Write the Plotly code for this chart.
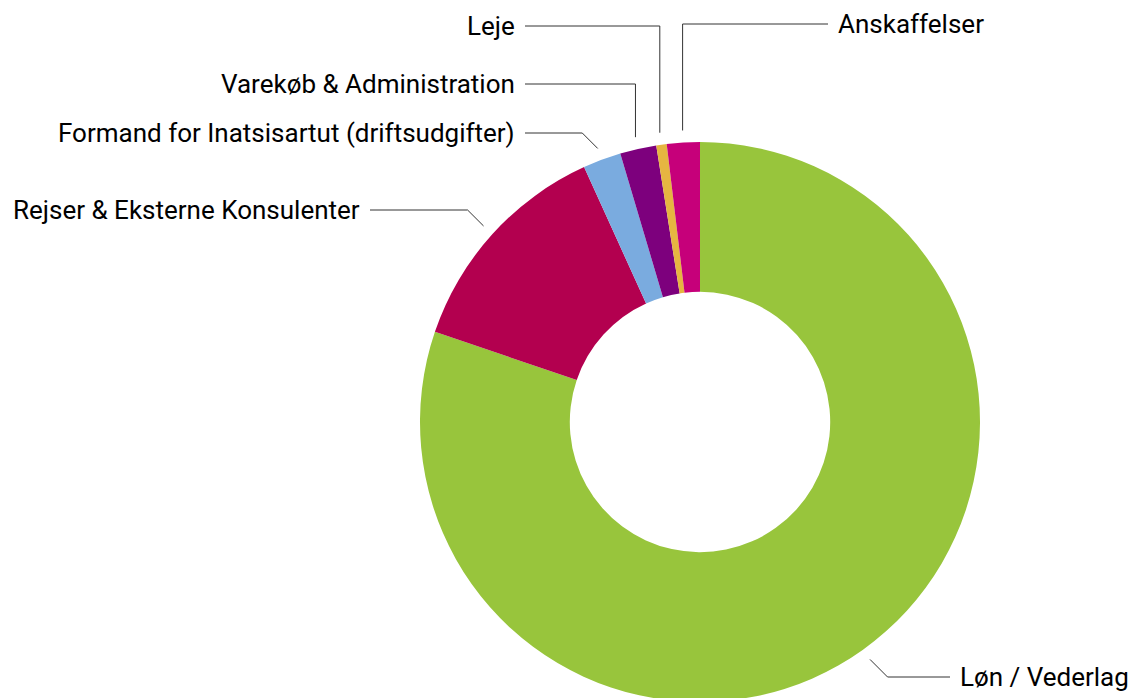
import math
import plotly.graph_objects as go

# ---------------- data ----------------
labels = [
    "Løn / Vederlag",
    "Rejser & Eksterne Konsulenter",
    "Formand for Inatsisartut (driftsudgifter)",
    "Varekøb & Administration",
    "Leje",
    "Anskaffelser",
]
values = [80.3, 13.0, 2.2, 2.1, 0.6, 1.9]
colors = ["#98c53c", "#b3004f", "#7aabdf", "#7d007d", "#e6b541", "#c6007a"]

# ---------------- layout (screen pixels) ----------------
W, H = 1132, 702
CX, CY, R = 700, 422, 280
HOLE = 0.465
ANCHOR_F = 1.043
FONT = dict(family="Roboto, DejaVu Sans, sans-serif", size=26, color="#000000")

# per label: (side of text, line start/end x next to text, label y, elbow style)
label_layout = [
    ("right", 950, 677, "diag"),
    ("left", 370, 210, "diag"),
    ("left", 525, 133, "diag"),
    ("left", 525, 84, "vert"),
    ("left", 525, 26, "vert"),
    ("right", 828, 24, "vert"),
]


def px(x):
    return x / W


def py(y):
    return 1 - y / H


fig = go.Figure(
    go.Pie(
        labels=labels,
        values=values,
        hole=HOLE,
        sort=False,
        direction="clockwise",
        rotation=0,
        marker=dict(colors=colors, line=dict(width=0)),
        textinfo="none",
        showlegend=False,
        domain=dict(x=[px(CX - R), px(CX + R)], y=[max(0, py(CY + R)), py(CY - R)]),
    )
)

total = sum(values)
cum = 0.0
shapes = []
annotations = []
for lab, v, (side, lx, ly, style) in zip(labels, values, label_layout):
    mid = (cum + v / 2) / total * 2 * math.pi
    cum += v
    ax = CX + R * ANCHOR_F * math.sin(mid)
    ay = CY - R * ANCHOR_F * math.cos(mid)
    if style == "vert":
        ex, ey = ax, ly
    else:
        d = abs(ly - ay)
        ex = ax + d if side == "right" else ax - d
        ey = ly
    path = f"M {px(ax)},{py(ay)} L {px(ex)},{py(ey)} L {px(lx)},{py(ly)}"
    shapes.append(dict(type="path", xref="paper", yref="paper", path=path,
                       line=dict(color="#333333", width=1)))
    if side == "right":
        annotations.append(dict(x=px(lx + 8), y=py(ly), xref="paper", yref="paper",
                                text=lab, showarrow=False, xanchor="left", yanchor="middle",
                                font=FONT))
    else:
        annotations.append(dict(x=px(lx - 8), y=py(ly), xref="paper", yref="paper",
                                text=lab, showarrow=False, xanchor="right", yanchor="middle",
                                font=FONT))

fig.update_layout(
    width=W,
    height=H,
    margin=dict(l=0, r=0, t=0, b=0),
    paper_bgcolor="white",
    plot_bgcolor="white",
    shapes=shapes,
    annotations=annotations,
)

fig.write_html(
    "out.html",
    config={"displayModeBar": False},
    post_script="document.body.style.margin='0';document.body.style.overflow='hidden';",
)
